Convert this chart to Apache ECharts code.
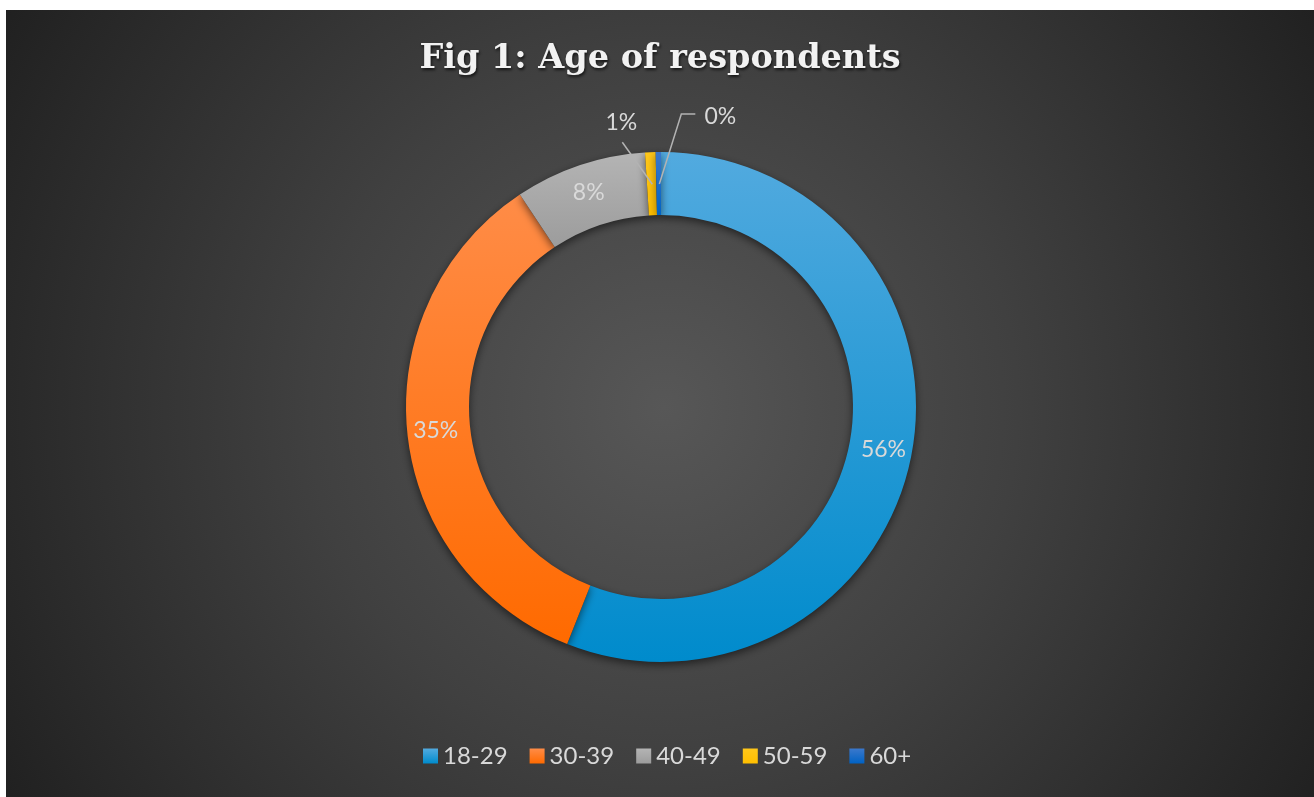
<!DOCTYPE html>
<html lang="en">
<head>
    <meta charset="UTF-8">
    <title>Fig 1: Age of respondents</title>
    <script src="https://cdn.jsdelivr.net/npm/echarts@6/dist/echarts.min.js"></script>
    <style>
        html, body { margin: 0; padding: 0; background: #ffffff; }
        #chart { position: absolute; left: 6px; top: 10px; width: 1308px; height: 787px; }
    </style>
</head>
<body>
    <div id="chart"></div>
<script type="text/javascript">
    // respondents per age group
    var ageGroups = ['18-29', '30-39', '40-49', '50-59', '60+'];
    var respondents = [168, 104, 25, 2, 1];

    // top / bottom colour of each slice gradient
    var topColors = ['#52aadf', '#ff8c47', '#b4b4b4', '#ffc71a', '#3b78cc'];
    var bottomColors = ['#008bcc', '#ff6a00', '#9c9c9c', '#ffbf00', '#0062c4'];

    var labelFont = 'Lato, "Open Sans", sans-serif';
    var pieCenter = [655, 397];
    var pieRadius = [192, 255];

    function pct(p) { return Math.round(p.percent) + '%'; }

    var list = [];
    var outsideList = [];
    for (var i = 0; i < ageGroups.length; i++) {
        var one = {};
        one.name = ageGroups[i];
        one.value = respondents[i];
        one.itemStyle = {
            color: new echarts.graphic.LinearGradient(0, 0, 0, 1, [
                { offset: 0, color: topColors[i] },
                { offset: 1, color: bottomColors[i] }
            ])
        };
        if (i >= 3) {
            one.label = { show: false };
        }
        list.push(one);

        // second (transparent) ring only carries the small outside labels, drawn on top
        var two = { name: ageGroups[i], value: respondents[i] };
        if (i < 3) {
            two.label = { show: false };
            two.labelLine = { show: false };
        }
        outsideList.push(two);
    }

    var dom = document.getElementById('chart');
    var myChart = echarts.init(dom);

    var option = {
        backgroundColor: {
            type: 'radial', x: 0.503, y: 0.505, r: 1,
            colorStops: [
                { offset: 0, color: '#575757' },
                { offset: 0.45, color: '#404040' },
                { offset: 1, color: '#1f1f1f' }
            ]
        },
        title: {
            text: 'Fig 1: Age of respondents',
            left: 'center',
            top: 27,
            textStyle: {
                fontFamily: '"DejaVu Serif", serif',
                fontWeight: 'bold',
                fontSize: 33.5,
                color: '#f2f2f2',
                textShadowColor: 'rgba(0,0,0,0.7)',
                textShadowBlur: 3,
                textShadowOffsetX: 1,
                textShadowOffsetY: 2
            }
        },
        legend: {
            bottom: 24,
            left: 412,
            itemWidth: 15,
            itemHeight: 15,
            itemGap: 22,
            icon: 'rect',
            textStyle: { color: '#d9d9d9', fontSize: 24, fontFamily: labelFont },
            data: ageGroups
        },
        series: [
            {
                name: 'Age',
                type: 'pie',
                z: 2,
                center: pieCenter,
                radius: pieRadius,
                startAngle: 90,
                clockwise: true,
                avoidLabelOverlap: false,
                emphasis: { disabled: true },
                itemStyle: {
                    shadowColor: 'rgba(0,0,0,0.55)',
                    shadowBlur: 8,
                    shadowOffsetY: 3
                },
                label: {
                    show: true,
                    position: 'inside',
                    formatter: pct,
                    color: '#d9d9d9',
                    fontSize: 23,
                    fontFamily: labelFont,
                    padding: [6, 0, 0, 0]
                },
                labelLine: { show: false },
                data: list
            },
            {
                name: 'Age labels',
                type: 'pie',
                z: 5,
                silent: true,
                legendHoverLink: false,
                center: pieCenter,
                radius: pieRadius,
                startAngle: 90,
                clockwise: true,
                avoidLabelOverlap: false,
                emphasis: { disabled: true },
                itemStyle: { color: 'rgba(0,0,0,0)' },
                label: {
                    show: true,
                    position: 'outside',
                    formatter: pct,
                    color: '#d9d9d9',
                    fontSize: 23,
                    fontFamily: labelFont
                },
                labelLine: {
                    show: true,
                    length: 30,
                    length2: 8,
                    lineStyle: { color: '#b3b3b3', width: 1.5 }
                },
                labelLayout: function (params) {
                    var pts = params.labelLinePoints;
                    if (!pts) return {};
                    var a = pts[0];
                    if (params.dataIndex === 3) {
                        return {
                            x: a[0] - 29, y: a[1] - 30,
                            align: 'center', verticalAlign: 'middle',
                            labelLinePoints: [[a[0] + 2, a[1] + 32], [a[0] - 28, a[1] - 10]]
                        };
                    }
                    if (params.dataIndex === 4) {
                        return {
                            x: a[0] + 62, y: a[1] - 35,
                            align: 'center', verticalAlign: 'middle',
                            labelLinePoints: [[a[0] + 1, a[1] + 32], [a[0] + 23, a[1] - 38], [a[0] + 37, a[1] - 38]]
                        };
                    }
                    return {};
                },
                data: outsideList
            }
        ]
    };

    if (option && typeof option === 'object') {
        myChart.setOption(option);
    }
</script>
</body>
</html>
